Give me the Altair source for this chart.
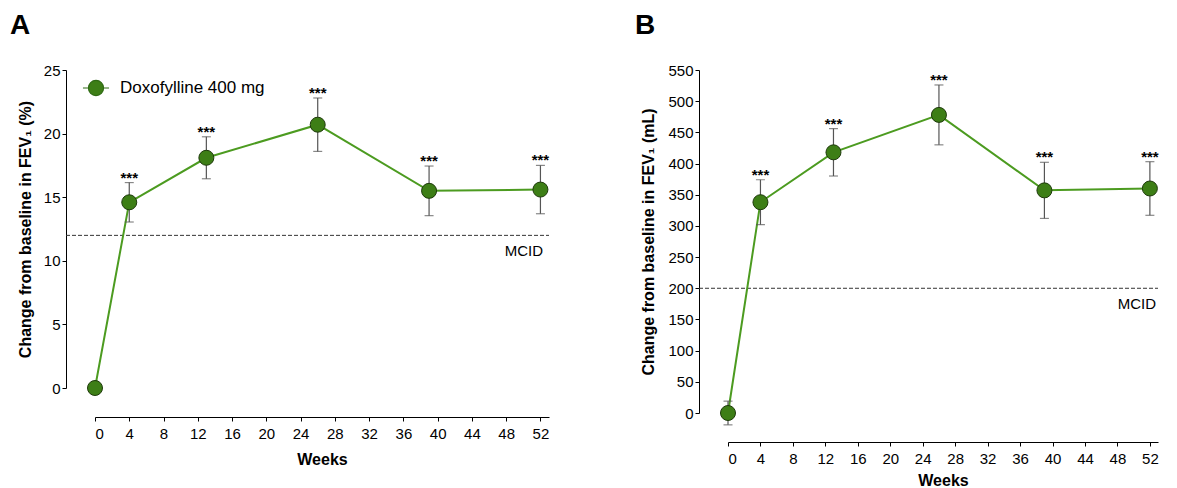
import altair as alt
import pandas as pd

# ---- data ----
weeks = [0, 4, 13, 26, 39, 52]
stars = ["", "***", "***", "***", "***", "***"]
series_name = "Doxofylline 400 mg"

pct_mean = [0.0, 14.6, 18.1, 20.7, 15.5, 15.6]
pct_sem = [0.0, 1.55, 1.65, 2.1, 1.95, 1.9]

ml_mean = [0, 338, 418, 478, 357, 360]
ml_sem = [19, 36, 38, 48, 45, 43]

x_ticks = [0, 4, 8, 12, 16, 20, 24, 28, 32, 36, 40, 44, 48, 52]
pct_ticks = [0, 5, 10, 15, 20, 25]
ml_ticks = [0, 50, 100, 150, 200, 250, 300, 350, 400, 450, 500, 550]
mcid_pct = [12]
mcid_ml = [200]

FONT = "Liberation Sans"
LINE_GREEN = "#4c9b20"
FILL_GREEN = "#3d7e16"
DARK = "#1e3a0b"
LEG_PATH = ("M-1,0L-0.58,0M0.58,0L1,0"
            "M0.58,0A0.58,0.58,0,1,1,-0.58,0A0.58,0.58,0,1,1,0.58,0Z")


def panel(mean, sem, yticks, ymax, mcid, ytitle, letter, w, h, letter_dx,
          ytitle_pad, mcid_dx, xtitle_pad, leg_y):
    df = pd.DataFrame({
        "week": weeks,
        "mean": mean,
        "lo": [m - s for m, s in zip(mean, sem)],
        "hi": [m + s for m, s in zip(mean, sem)],
        "stars": stars,
        "series": [series_name] * len(weeks),
    })
    mdf = pd.DataFrame({"mcid": mcid})

    xscale = alt.Scale(domain=[0, 53], nice=False, zero=False)
    xaxis = alt.Axis(values=x_ticks, title="Weeks", offset=29,
                     grid=False, tickSize=4, labelPadding=5,
                     titlePadding=xtitle_pad, labelOverlap=False)
    yscale = alt.Scale(domain=[0, ymax], nice=False)
    yaxis = alt.Axis(values=yticks, title=ytitle, offset=29,
                     grid=False, tickSize=4, labelPadding=2,
                     titlePadding=ytitle_pad, labelOverlap=False)

    def X():
        return alt.X("week:Q", scale=xscale, axis=xaxis)

    def Y(field):
        return alt.Y(field, scale=yscale, axis=yaxis)

    base = alt.Chart(df)
    rule = alt.Chart(mdf).mark_rule(color="#333333", strokeWidth=1,
                                    strokeDash=[4, 2]).encode(
        y=Y("mcid:Q"),
        x=alt.value(-29), x2=alt.value(w))
    mlabel = alt.Chart(mdf).mark_text(
        text="MCID", align="right", baseline="middle", dy=16, dx=mcid_dx,
        font=FONT, fontSize=15, color="black").encode(
        y=Y("mcid:Q"), x=alt.value(w))
    line = base.mark_line(color=LINE_GREEN, strokeWidth=2).encode(
        x=X(), y=Y("mean:Q"))
    err = base.mark_rule(color="#555555", strokeWidth=1.2).encode(
        x=X(), y=Y("lo:Q"), y2="hi:Q")
    cap_hi = base.mark_tick(color="#555555", orient="horizontal", size=9,
                            thickness=1.2).encode(x=X(), y=Y("hi:Q"))
    cap_lo = base.mark_tick(color="#555555", orient="horizontal", size=9,
                            thickness=1.2).encode(x=X(), y=Y("lo:Q"))
    pts = base.mark_point(filled=True, size=225, stroke=DARK, strokeWidth=1,
                          opacity=1).encode(
        x=X(), y=Y("mean:Q"),
        fill=alt.Fill("series:N",
                      scale=alt.Scale(domain=[series_name], range=[FILL_GREEN]),
                      legend=alt.Legend(title=None, orient="none",
                                        legendX=-13, legendY=leg_y,
                                        symbolType=LEG_PATH, symbolSize=680,
                                        symbolStrokeColor="#2f6a14",
                                        symbolStrokeWidth=1.2,
                                        symbolFillColor=FILL_GREEN,
                                        labelFont=FONT, labelFontSize=17,
                                        labelColor="black", labelOffset=10,
                                        padding=0)))
    txt = base.mark_text(baseline="alphabetic", dy=0, font=FONT, fontSize=15,
                         fontWeight="bold", color="black").encode(
        x=X(), y=Y("hi:Q"), text="stars:N")

    return alt.layer(rule, mlabel, line, err, cap_hi, cap_lo, pts, txt).properties(
        width=w, height=h,
        title=alt.TitleParams(text=letter, anchor="start", frame="group",
                              dx=letter_dx, fontSize=28, fontWeight="bold",
                              font=FONT, color="black", offset=23))


a = panel(pct_mean, pct_sem, pct_ticks, 25, mcid_pct,
          "Change from baseline in FEV\u2081 (%)", "A", 454, 318, -85, 10, -6,
          10, 4)
b = panel(ml_mean, ml_sem, ml_ticks, 550, mcid_ml,
          "Change from baseline in FEV\u2081 (mL)", "B", 430, 343, -93, 11, -2,
          6, 5)

chart = alt.hconcat(a, b, spacing=179, bounds="flush").properties(
    padding={"left": 2, "top": 4, "right": 0, "bottom": 0}
).configure_view(stroke=None).configure_axis(
    domainColor="black", tickColor="black", domainWidth=1, tickWidth=1,
    labelFont=FONT, labelFontSize=15, labelColor="black",
    titleFont=FONT, titleFontSize=16, titleFontWeight="bold",
    titleColor="black"
)

chart.save("out.html", embed_options={"renderer": "svg", "actions": False})
